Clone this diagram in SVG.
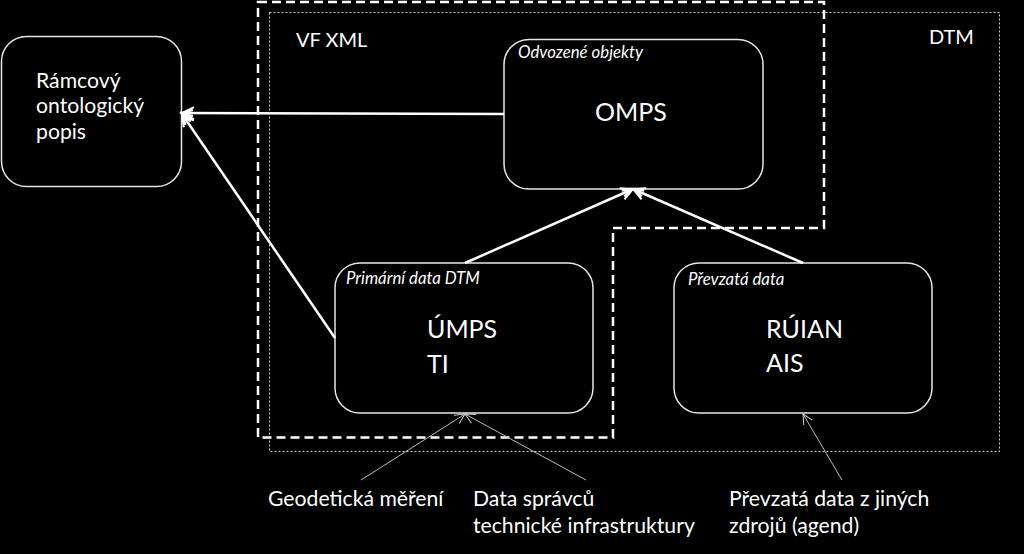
<svg xmlns="http://www.w3.org/2000/svg" width="1024" height="554" viewBox="0 0 1024 554">
<style>
.bg{fill:#000}
.box{fill:#000;stroke:#e6e6e6;stroke-width:1.5}
.t{font-family:Lato,"Liberation Sans",sans-serif;fill:#fff;font-size:21.2px}
.lbl{font-size:20px}
.big{font-size:25px}
.cap{font-family:Lato,"Liberation Sans",sans-serif;fill:#fff;font-size:16.8px;font-style:italic}
.thick{stroke:#fff;stroke-width:2.5;fill:none}
.thin{stroke:#bdbdbd;stroke-width:1;fill:none}
.vf{fill:none;stroke:#fff;stroke-width:2.5;stroke-dasharray:9,5}
.dtm{fill:none;stroke:#cfcfcf;stroke-width:1;stroke-dasharray:2,2}
</style>
<defs>
<marker id="ah" markerUnits="userSpaceOnUse" markerWidth="16" markerHeight="16" refX="13" refY="7" orient="auto" viewBox="0 0 16 14">
<path d="M1,1 L13,7 L1,13 M2,4 L13,7 L2,10" fill="none" stroke="#fff" stroke-width="2"/>
</marker>
<marker id="ahs" markerUnits="userSpaceOnUse" markerWidth="14" markerHeight="14" refX="11" refY="6" orient="auto" viewBox="0 0 14 12">
<path d="M1,1 L11,6 L1,11" fill="none" stroke="#d0d0d0" stroke-width="1"/>
</marker>
</defs>
<rect class="bg" x="0" y="0" width="1024" height="554"/>
<g id="dtm-area">
<rect class="dtm" x="269.5" y="12.5" width="730" height="439"/>
<text class="t lbl" x="929" y="44">DTM</text>
</g>
<g id="vfxml-area">
<path class="vf" d="M258,2 H824 V228 H613 V437.5 H258 Z"/>
<text class="t lbl" x="296" y="47">VF XML</text>
</g>
<g id="ramcovy">
<rect class="box" x="1.5" y="36.5" width="180" height="150" rx="25"/>
<text class="t" x="36" y="88">Rámcový</text>
<text class="t" x="36" y="113">ontologický</text>
<text class="t" x="36" y="139">popis</text>
</g>
<g id="omps">
<rect class="box" x="504" y="39.5" width="259" height="149.5" rx="25"/>
<text class="cap" x="518" y="58">Odvozené objekty</text>
<text class="t big" x="595" y="121">OMPS</text>
</g>
<g id="umps">
<rect class="box" x="335" y="263" width="258" height="150" rx="25"/>
<text class="cap" x="346" y="284">Primární data DTM</text>
<text class="t big" x="427" y="338">ÚMPS</text>
<text class="t big" x="427" y="373">TI</text>
</g>
<g id="ruian">
<rect class="box" x="674" y="263" width="258" height="150" rx="25"/>
<text class="cap" x="688" y="285">Převzatá data</text>
<text class="t big" x="766" y="338">RÚIAN</text>
<text class="t big" x="766" y="372">AIS</text>
</g>
<g id="sources">
<text class="t" x="268" y="506">Geodetická měření</text>
<text class="t" x="473" y="506">Data správců</text>
<text class="t" x="473" y="533">technické infrastruktury</text>
<text class="t" x="729" y="506">Převzatá data z jiných</text>
<text class="t" x="729" y="533">zdrojů (agend)</text>
</g>
<g id="connectors">
<line class="thick" x1="504" y1="114" x2="182" y2="113" marker-end="url(#ah)"/>
<line class="thick" x1="335" y1="338" x2="182" y2="114" marker-end="url(#ah)"/>
<line class="thick" x1="465" y1="263" x2="633" y2="189" marker-end="url(#ah)"/>
<line class="thick" x1="803" y1="263" x2="633" y2="189" marker-end="url(#ah)"/>
<line class="thin" x1="361" y1="480" x2="465" y2="414" marker-end="url(#ahs)"/>
<line class="thin" x1="586" y1="480" x2="465" y2="414" marker-end="url(#ahs)"/>
<line class="thin" x1="842" y1="480" x2="803" y2="414" marker-end="url(#ahs)"/>
</g>
</svg>
